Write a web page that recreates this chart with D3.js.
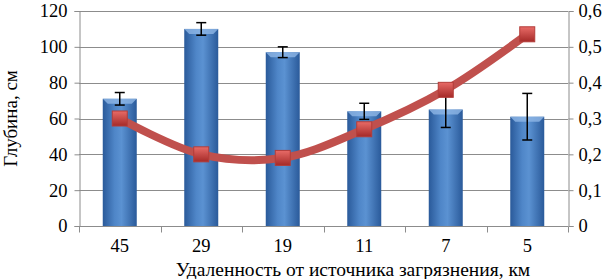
<!DOCTYPE html>
<html>
<head>
<meta charset="utf-8">
<script src="https://cdn.jsdelivr.net/npm/d3@7"></script>
<style>
  body { margin: 0; background: #fff; }
  svg { display: block; }
  svg text { font-family: "Liberation Serif", "Times New Roman", serif; }
</style>
</head>
<body>
<svg id="chart" width="610" height="279"></svg>
<script>
const categories = ["45", "29", "19", "11", "7", "5"]
const depth = [71, 110, 97, 64, 65, 61]
const depth_err = [3.5, 3.5, 3, 4.5, 10, 13]
const right_values = [0.3, 0.2, 0.19, 0.27, 0.38, 0.535]
const left_ticks = [0, 20, 40, 60, 80, 100, 120]
const right_ticks = [0, 0.1, 0.2, 0.3, 0.4, 0.5, 0.6]

const marginTop = 11
const marginBottom = 53
const marginLeft = 79
const marginRight = 42
const width = 610
const height = 279

const svg = d3.select("#chart")

const x = d3.scaleBand()
  .domain(categories)
  .range([marginLeft, width - marginRight])

const y = d3.scaleLinear()
  .domain([0, 120])
  .range([height - marginBottom, marginTop])

const y2 = d3.scaleLinear()
  .domain([0, 0.6])
  .range([height - marginBottom, marginTop])

// gradients for the bars and markers
const defs = svg.append("defs")
const bar_grad = defs.append("linearGradient").attr("id", "bar_grad")
bar_grad.append("stop").attr("offset", "0%").attr("stop-color", "#2a5a9a")
bar_grad.append("stop").attr("offset", "35%").attr("stop-color", "#4f86c8")
bar_grad.append("stop").attr("offset", "55%").attr("stop-color", "#5b92d2")
bar_grad.append("stop").attr("offset", "100%").attr("stop-color", "#2a5a9a")

const mark_grad = defs.append("linearGradient").attr("id", "mark_grad")
  .attr("x1", "0").attr("y1", "0").attr("x2", "0").attr("y2", "1")
mark_grad.append("stop").attr("offset", "0%").attr("stop-color", "#e86b67")
mark_grad.append("stop").attr("offset", "100%").attr("stop-color", "#a52a28")

// gridlines
svg.append("g")
  .selectAll("line")
  .data(left_ticks)
  .join("line")
  .attr("x1", marginLeft)
  .attr("x2", width - marginRight)
  .attr("y1", d => Math.round(y(d)) + 0.5)
  .attr("y2", d => Math.round(y(d)) + 0.5)
  .attr("stroke", "#8c8c8c")
  .attr("stroke-width", 1)

// left axis
const left_axis = svg.append("g")
  .attr("transform", `translate(${marginLeft + 0.5},0)`)
  .call(d3.axisLeft(y).tickValues(left_ticks).tickSize(5).tickPadding(7))
left_axis.attr("font-family", null).attr("font-size", null)
left_axis.select(".domain").attr("stroke", "#8c8c8c")
left_axis.selectAll(".tick line").attr("stroke", "#8c8c8c")
left_axis.selectAll("text").attr("fill", "#000").style("font-size", "18.5px")

// right axis
const right_axis = svg.append("g")
  .attr("transform", `translate(${width - marginRight + 0.5},0)`)
  .call(d3.axisRight(y2).tickValues(right_ticks).tickSize(5).tickPadding(5)
    .tickFormat(d => d === 0 ? "0" : d3.format(".1f")(d).replace(".", ",")))
right_axis.attr("font-family", null).attr("font-size", null)
right_axis.select(".domain").attr("stroke", "#8c8c8c")
right_axis.selectAll(".tick line").attr("stroke", "#8c8c8c")
right_axis.selectAll("text").attr("fill", "#000").style("font-size", "18.5px")

// bottom axis with ticks between categories
const bottom = svg.append("g")
  .attr("transform", `translate(0,${Math.round(height - marginBottom) + 0.5})`)
bottom.append("line")
  .attr("x1", marginLeft).attr("x2", width - marginRight)
  .attr("stroke", "#8c8c8c")
bottom.selectAll(".sep")
  .data(d3.range(categories.length + 1))
  .join("line")
  .attr("class", "sep")
  .attr("x1", i => Math.round(marginLeft + i * x.step()) + 0.5)
  .attr("x2", i => Math.round(marginLeft + i * x.step()) + 0.5)
  .attr("y1", 0).attr("y2", 6)
  .attr("stroke", "#8c8c8c")
bottom.selectAll("text")
  .data(categories)
  .join("text")
  .attr("x", d => x(d) + x.bandwidth() / 2)
  .attr("y", 25)
  .attr("text-anchor", "middle")
  .style("font-size", "18.5px")
  .text(d => d)

// bars
const bar_w = 34
svg.append("g")
  .selectAll("rect")
  .data(categories)
  .join("rect")
  .attr("x", d => x(d) + x.bandwidth() / 2 - bar_w / 2)
  .attr("y", (d, i) => y(depth[i]))
  .attr("width", bar_w)
  .attr("height", (d, i) => y(0) - y(depth[i]))
  .attr("fill", "url(#bar_grad)")

// bar top highlight
svg.append("g")
  .selectAll("path")
  .data(categories)
  .join("path")
  .attr("d", (d, i) => {
    const x0 = x(d) + x.bandwidth() / 2 - bar_w / 2
    const y0 = y(depth[i])
    return `M${x0},${y0} L${x0 + bar_w},${y0} L${x0 + bar_w - 5},${y0 + 5} L${x0 + 5},${y0 + 5} Z`
  })
  .attr("fill", "#8fb6e6")
  .attr("opacity", 0.8)

// error bars
const err = svg.append("g").attr("stroke", "#000").attr("stroke-width", 1.5)
categories.forEach((c, i) => {
  const cx = x(c) + x.bandwidth() / 2
  const top = y(depth[i] + depth_err[i])
  const bot = y(depth[i] - depth_err[i])
  err.append("line").attr("x1", cx).attr("x2", cx).attr("y1", top).attr("y2", bot)
  err.append("line").attr("x1", cx - 5).attr("x2", cx + 5).attr("y1", top).attr("y2", top)
  err.append("line").attr("x1", cx - 5).attr("x2", cx + 5).attr("y1", bot).attr("y2", bot)
})

// smoothed line on right axis
const line = d3.line()
  .x((d, i) => x(categories[i]) + x.bandwidth() / 2)
  .y(d => y2(d))
  .curve(d3.curveCatmullRom.alpha(0.5))

svg.append("path")
  .datum(right_values)
  .attr("d", line)
  .attr("fill", "none")
  .attr("stroke", "#c0504d")
  .attr("stroke-width", 8)
  .attr("stroke-linejoin", "round")

// square markers
const ms = 15
svg.append("g")
  .selectAll("rect")
  .data(right_values)
  .join("rect")
  .attr("x", (d, i) => x(categories[i]) + x.bandwidth() / 2 - ms / 2)
  .attr("y", d => y2(d) - ms / 2)
  .attr("width", ms)
  .attr("height", ms)
  .attr("fill", "url(#mark_grad)")
  .attr("stroke", "#b33c39")
  .attr("stroke-width", 1)

// axis titles
svg.append("text")
  .attr("transform", `translate(17,${(marginTop + height - marginBottom) / 2}) rotate(-90)`)
  .attr("text-anchor", "middle")
  .style("font-size", "19px")
  .text("Глубина, см")

svg.append("text")
  .attr("x", 353)
  .attr("y", 276)
  .attr("text-anchor", "middle")
  .style("font-size", "19.5px")
  .text("Удаленность от источника загрязнения, км")
</script>
</body>
</html>
